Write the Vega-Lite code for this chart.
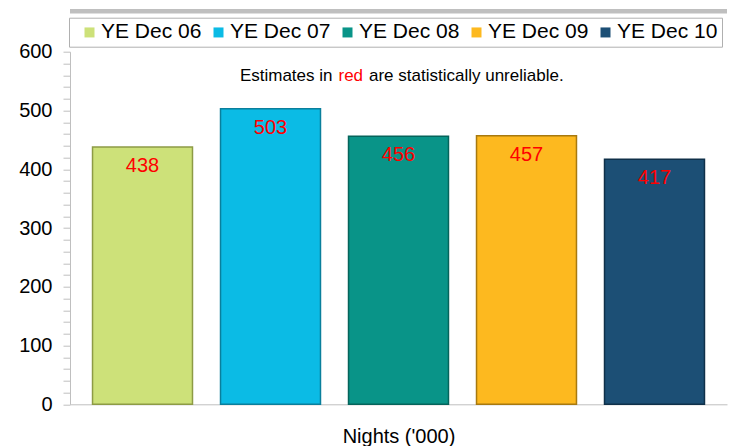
{
  "$schema": "https://vega.github.io/schema/vega-lite/v6.json",
  "width": 657,
  "height": 352.6,
  "autosize": {"type": "none"},
  "padding": {"left": 70, "top": 51.7, "right": 2, "bottom": 41.7},
  "background": "white",
  "config": {
    "view": {"stroke": null},
    "font": "Liberation Sans",
    "axisY": {
      "title": null,
      "tickCount": 30,
      "labelExpr": "datum.value % 100 === 0 ? datum.label : ''",
      "labelOverlap": false,
      "tickSize": 7, "labelPadding": 11, "labelFontSize": 20, "labelColor": "#000",
      "domainColor": "#bfbfbf", "tickColor": "#bfbfbf",
      "gridColor": "#cccccc"
    },
    "axisX": {
      "labels": false, "ticks": false,
      "domainColor": "#bfbfbf", "titleFontSize": 20, "titleFontWeight": "normal",
      "titleColor": "#000", "titleBaseline": "alphabetic", "titlePadding": 38.5
    }
  },
  "data": {
    "values": [
      {"period": "YE Dec 06", "nights": 438},
      {"period": "YE Dec 07", "nights": 503},
      {"period": "YE Dec 08", "nights": 456},
      {"period": "YE Dec 09", "nights": 457},
      {"period": "YE Dec 10", "nights": 417}
    ]
  },
  "layer": [
    {
      "mark": {"type": "rule", "color": "#bfbfbf", "strokeWidth": 4.5},
      "data": {"values": [{}]},
      "encoding": {"y": {"datum": 669, "type": "quantitative", "axis": {"title": null, "gridOpacity": {"condition": {"test": "datum.value % 100 === 0 && datum.value > 0 && datum.value < 600", "value": 1}, "value": 0}}}}
    },
    {
      "mark": {"type": "bar", "strokeWidth": 1.5},
      "encoding": {
        "x": {
          "field": "period", "type": "nominal", "sort": null,
          "scale": {"paddingInner": 0.219, "paddingOuter": 0.176},
          "axis": {"title": "Nights ('000)"}
        },
        "y": {
          "field": "nights", "type": "quantitative",
          "scale": {"domain": [0, 600], "nice": false},
          "axis": {"title": null, "gridOpacity": {"condition": {"test": "datum.value % 100 === 0 && datum.value > 0 && datum.value < 600", "value": 1}, "value": 0}}
        },
        "color": {
          "field": "period", "type": "nominal", "sort": null,
          "scale": {"range": ["#cde179", "#0bbbe5", "#099488", "#fdb91f", "#1c4f75"]},
          "legend": {
            "orient": "none", "legendX": -1, "legendY": -34,
            "direction": "horizontal", "columns": 5, "title": null,
            "symbolType": "square", "symbolSize": 100, "symbolStrokeWidth": 0,
            "labelFontSize": 21, "labelColor": "#000", "labelOffset": 1,
            "columnPadding": 0, "padding": 4, "symbolOffset": 6,
            "strokeColor": "#b0b0b0"
          }
        },
        "stroke": {
          "field": "period", "type": "nominal", "sort": null,
          "scale": {"range": ["#8d9b45", "#0a7f9c", "#05645b", "#a8790f", "#0f3049"]},
          "legend": null
        }
      }
    },
    {
      "mark": {"type": "text", "color": "#ff0000", "fontSize": 20, "baseline": "alphabetic", "dy": 25},
      "encoding": {
        "x": {"field": "period", "type": "nominal", "sort": null, "axis": {"title": "Nights ('000)"}},
        "y": {"field": "nights", "type": "quantitative", "axis": {"title": null, "gridOpacity": {"condition": {"test": "datum.value % 100 === 0 && datum.value > 0 && datum.value < 600", "value": 1}, "value": 0}}},
        "text": {"field": "nights", "type": "quantitative"}
      }
    },
    {
      "data": {"values": [{"note": "Estimates in"}]},
      "mark": {"type": "text", "color": "#000", "fontSize": 17, "baseline": "alphabetic", "align": "right", "dx": -66},
      "encoding": {
        "x": {"datum": "YE Dec 08", "type": "nominal", "axis": {"title": "Nights ('000)"}},
        "y": {"datum": 550, "type": "quantitative", "axis": {"title": null, "gridOpacity": {"condition": {"test": "datum.value % 100 === 0 && datum.value > 0 && datum.value < 600", "value": 1}, "value": 0}}},
        "text": {"field": "note"}
      }
    },
    {
      "data": {"values": [{"note": "red"}]},
      "mark": {"type": "text", "color": "#ff0000", "fontSize": 17, "baseline": "alphabetic", "align": "left", "dx": -60},
      "encoding": {
        "x": {"datum": "YE Dec 08", "type": "nominal", "axis": {"title": "Nights ('000)"}},
        "y": {"datum": 550, "type": "quantitative", "axis": {"title": null, "gridOpacity": {"condition": {"test": "datum.value % 100 === 0 && datum.value > 0 && datum.value < 600", "value": 1}, "value": 0}}},
        "text": {"field": "note"}
      }
    },
    {
      "data": {"values": [{"note": "are statistically unreliable."}]},
      "mark": {"type": "text", "color": "#000", "fontSize": 17, "baseline": "alphabetic", "align": "left", "dx": -29.5},
      "encoding": {
        "x": {"datum": "YE Dec 08", "type": "nominal", "axis": {"title": "Nights ('000)"}},
        "y": {"datum": 550, "type": "quantitative", "axis": {"title": null, "gridOpacity": {"condition": {"test": "datum.value % 100 === 0 && datum.value > 0 && datum.value < 600", "value": 1}, "value": 0}}},
        "text": {"field": "note"}
      }
    }
  ]
}
